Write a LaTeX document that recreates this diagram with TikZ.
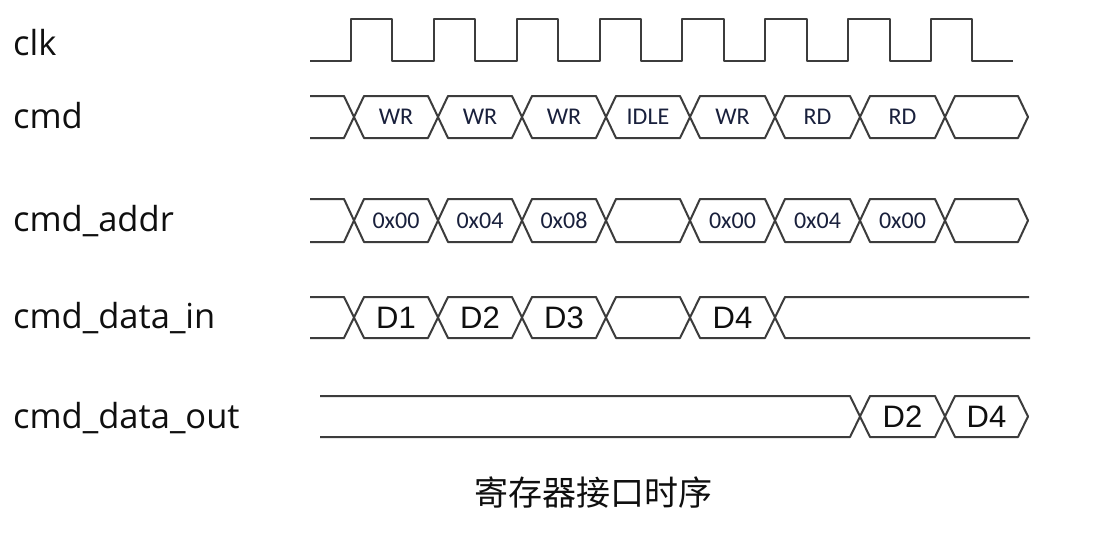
\documentclass[tikz,border=0pt]{standalone}
\usepackage{fontspec}
\setmainfont{Carlito}
\newfontfamily\labfont{Open Sans}
\newfontfamily\arialfont{Liberation Sans}
\newfontfamily\cjkfont{Noto Sans CJK SC}
\definecolor{wavecol}{RGB}{60,60,60}
\definecolor{labcol}{RGB}{15,15,15}
\definecolor{boxcol}{RGB}{25,32,60}
\begin{document}
\begin{tikzpicture}[x=1pt,y=-1pt,
  wave/.style={draw=wavecol, line width=2pt, line join=round},
  sig/.style={font=\labfont\fontsize{34.5}{36}\selectfont, text=labcol, anchor=base west, inner sep=0pt},
  btxt/.style={font=\fontsize{24}{26}\selectfont, text=boxcol, inner sep=0pt},
  dtxt/.style={font=\arialfont\fontsize{31}{33}\selectfont, text=labcol, inner sep=0pt}]
\useasboundingbox[fill=white] (0,0) rectangle (1094,544);
% labels
\node[sig] (lclk) at (13,55) {clk};
\node[sig] (lcmd) at (13,128) {cmd};
\node[sig] (laddr) at (13,231) {cmd\_addr};
\node[sig] (ldin) at (13,328) {cmd\_data\_in};
\node[sig] (ldout) at (13,428) {cmd\_data\_out};
% clock
\draw[wave] (310,61) \foreach \k in {0,...,7} { -- ({351+82.85*\k},61) -- ({351+82.85*\k},19) -- ({392.4+82.85*\k},19) -- ({392.4+82.85*\k},61) } -- (1013,61);
% cmd
\draw[wave] (310,96) -- (344,96) -- (354,117) -- (344,138) -- (310,138);
\foreach \a/\b/\t [count=\i] in {354/438/WR, 438/522/WR, 522/606/WR, 606/690/IDLE, 690/775/WR, 775/860/RD, 860/945/RD, 945/1028/{}} {
  \draw[wave] ({\a+10},96) -- ({\b-10},96) -- (\b,117) -- ({\b-10},138) -- ({\a+10},138) -- (\a,117) -- cycle;
  \node[btxt] (cmd\i) at ({(\a+\b)/2},117) {\t};
}
% cmd_addr
\draw[wave] (310,199) -- (344,199) -- (354,220.5) -- (344,242) -- (310,242);
\foreach \a/\b/\t [count=\i] in {354/438/0x00, 438/522/0x04, 522/606/0x08, 606/690/{}, 690/775/0x00, 775/860/0x04, 860/945/0x00, 945/1028/{}} {
  \draw[wave] ({\a+10},199) -- ({\b-10},199) -- (\b,220.5) -- ({\b-10},242) -- ({\a+10},242) -- (\a,220.5) -- cycle;
  \node[btxt] (addr\i) at ({(\a+\b)/2},220.5) {\t};
}
% cmd_data_in
\draw[wave] (310,297) -- (344,297) -- (354,317.5) -- (344,338) -- (310,338);
\foreach \a/\b/\t [count=\i] in {354/438/D1, 438/522/D2, 522/606/D3, 606/690/{}, 690/775/D4} {
  \draw[wave] ({\a+10},297) -- ({\b-10},297) -- (\b,317.5) -- ({\b-10},338) -- ({\a+10},338) -- (\a,317.5) -- cycle;
  \node[dtxt] (din\i) at ({(\a+\b)/2},317.5) {\t};
}
\draw[wave] (1029,297) -- (785,297) -- (775,317.5) -- (785,338) -- (1030,338);
% cmd_data_out
\draw[wave] (320,396) -- (850,396) -- (860,416.5) -- (850,437) -- (320,437);
\foreach \a/\b/\t [count=\i] in {860/945/D2, 945/1028/D4} {
  \draw[wave] ({\a+10},396) -- ({\b-10},396) -- (\b,416.5) -- ({\b-10},437) -- ({\a+10},437) -- (\a,416.5) -- cycle;
  \node[dtxt] (dout\i) at ({(\a+\b)/2},416.5) {\t};
}
% title
\node[font=\cjkfont\fontsize{34}{36}\selectfont, text=labcol, inner sep=0pt] (title) at (593,493) {寄存器接口时序};
\end{tikzpicture}
\end{document}
